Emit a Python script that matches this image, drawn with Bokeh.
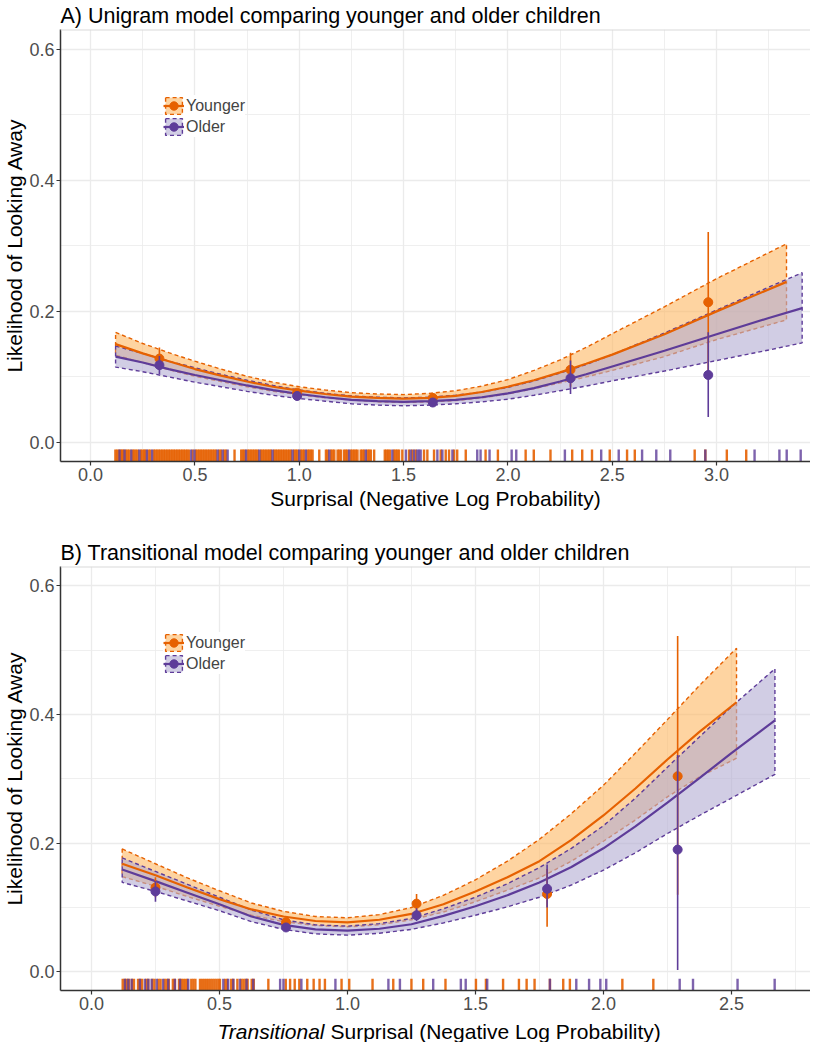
from bokeh.plotting import figure
from bokeh.models import (Range1d, FixedTicker, PrintfTickFormatter,
                          Legend, LegendItem, Label, Span)
from bokeh.layouts import column
from bokeh.embed import file_html
from bokeh.resources import INLINE

FONT = "Liberation Sans"
ORANGE = "#e66101"
ORANGE_FILL = "#fdb863"
PURPLE = "#5e3c99"
PURPLE_FILL = "#b2abd2"
GRID = "#ebebeb"

groups = ["Younger", "Older"]
y_label = "Likelihood of Looking Away"
y_ticks = [0.0, 0.2, 0.4, 0.6]
y_minor = [0.1, 0.3, 0.5]

# ---------------- Panel A : unigram model ----------------
a_title = "A) Unigram model comparing younger and older children"
a_xlabel = "Surprisal (Negative Log Probability)"
a_xticks = [0.0, 0.5, 1.0, 1.5, 2.0, 2.5, 3.0]
a_xminor = [0.25, 0.75, 1.25, 1.75, 2.25, 2.75, 3.25]

a_young_x = [0.12, 0.25, 0.375, 0.5, 0.625, 0.75, 0.875, 1.0, 1.125, 1.25, 1.375, 1.5, 1.625,
             1.75, 1.875, 2.0, 2.125, 2.25, 2.375, 2.5, 2.75, 3.0, 3.335]
a_young_fit = [0.150, 0.136, 0.124, 0.112, 0.102, 0.093, 0.085, 0.079, 0.074, 0.070, 0.068, 0.067,
               0.068, 0.071, 0.077, 0.085, 0.095, 0.107, 0.120, 0.134, 0.165, 0.200, 0.245]
a_young_hi = [0.168, 0.151, 0.137, 0.124, 0.112, 0.101, 0.092, 0.085, 0.080, 0.076, 0.074, 0.073,
              0.075, 0.079, 0.086, 0.096, 0.110, 0.126, 0.145, 0.166, 0.207, 0.250, 0.303]
a_young_lo = [0.133, 0.122, 0.111, 0.101, 0.093, 0.085, 0.078, 0.073, 0.068, 0.065, 0.062, 0.061,
              0.062, 0.064, 0.068, 0.074, 0.082, 0.091, 0.100, 0.110, 0.131, 0.157, 0.187]

a_old_x = [0.12, 0.25, 0.375, 0.5, 0.625, 0.75, 0.875, 1.0, 1.125, 1.25, 1.375, 1.5, 1.625,
           1.75, 1.875, 2.0, 2.125, 2.25, 2.375, 2.5, 2.75, 3.0, 3.25, 3.41]
a_old_fit = [0.131, 0.122, 0.112, 0.103, 0.095, 0.087, 0.080, 0.074, 0.069, 0.065, 0.063, 0.062,
             0.063, 0.065, 0.069, 0.075, 0.083, 0.093, 0.104, 0.116, 0.140, 0.165, 0.190, 0.205]
a_old_hi = [0.147, 0.136, 0.124, 0.114, 0.104, 0.095, 0.087, 0.080, 0.075, 0.071, 0.069, 0.068,
            0.069, 0.072, 0.077, 0.084, 0.094, 0.106, 0.119, 0.134, 0.167, 0.202, 0.237, 0.259]
a_old_lo = [0.115, 0.108, 0.100, 0.092, 0.085, 0.078, 0.072, 0.067, 0.063, 0.059, 0.057, 0.056,
            0.057, 0.059, 0.062, 0.066, 0.072, 0.079, 0.086, 0.094, 0.109, 0.125, 0.141, 0.152]

a_bin_x = [0.33, 0.99, 1.64, 2.30, 2.96]
a_young_mean = [0.128, 0.076, 0.068, 0.111, 0.214]
a_young_elo = [0.112, 0.070, 0.062, 0.085, 0.107]
a_young_ehi = [0.145, 0.082, 0.074, 0.137, 0.321]
a_old_mean = [0.118, 0.071, 0.061, 0.098, 0.103]
a_old_elo = [0.104, 0.064, 0.055, 0.074, 0.039]
a_old_ehi = [0.132, 0.077, 0.067, 0.125, 0.168]

a_young_rug = [0.119, 0.127, 0.136, 0.145, 0.152, 0.158, 0.170, 0.178, 0.186, 0.201, 0.209, 0.217,
               0.226, 0.241, 0.249, 0.257, 0.263, 0.278, 0.286, 0.303, 0.311, 0.319, 0.327, 0.335,
               0.343, 0.351, 0.359, 0.367, 0.375, 0.383, 0.391, 0.399, 0.407, 0.415, 0.423, 0.431,
               0.439, 0.447, 0.455, 0.463, 0.471, 0.489, 0.505, 0.513, 0.521, 0.529, 0.537, 0.545,
               0.553, 0.561, 0.569, 0.577, 0.585, 0.593, 0.601, 0.617, 0.625, 0.641, 0.649,
               0.690, 0.722, 0.730, 0.738, 0.753, 0.761, 0.769, 0.777, 0.785, 0.793, 0.801, 0.817,
               0.825, 0.833, 0.841, 0.849, 0.857, 0.864, 0.880, 0.888, 0.896, 0.904, 0.912, 0.920,
               0.928, 0.936, 0.944, 0.952, 0.960, 0.976, 0.984, 0.992, 1.008, 1.016, 1.024, 1.040,
               1.048, 1.056, 1.064, 1.096, 1.128, 1.136, 1.152, 1.160, 1.168, 1.184, 1.192, 1.200,
               1.215, 1.223, 1.231, 1.247, 1.255, 1.263, 1.271, 1.279, 1.295, 1.303, 1.311, 1.327,
               1.335, 1.343, 1.359, 1.410, 1.418, 1.426, 1.434, 1.454, 1.462, 1.470, 1.478, 1.494,
               1.526, 1.542, 1.558, 1.598, 1.614, 1.646, 1.678, 1.702, 1.718, 1.742, 1.757, 1.798,
               1.893, 1.952, 2.085, 2.124, 2.204, 2.308, 2.356, 2.403, 2.488, 2.571, 2.608, 2.895,
               2.946, 3.049, 3.142]
a_old_rug = [0.139, 0.163, 0.195, 0.234, 0.270, 0.295, 0.482, 0.498, 0.609, 0.633, 0.657, 0.745,
             0.809, 0.872, 0.968, 1.000, 1.032, 1.144, 1.239, 1.319, 1.446, 1.511, 1.534, 1.550,
             1.566, 1.574, 1.582, 1.662, 1.686, 1.734, 1.853, 1.869, 1.912, 2.018, 2.040, 2.273,
             2.447, 2.531, 2.643, 2.711, 2.778, 2.946, 3.182, 3.301, 3.336, 3.403]

# ---------------- Panel B : transitional model ----------------
b_title = "B) Transitional model comparing younger and older children"
b_xlabel_italic = "Transitional"
b_xlabel_rest = "Surprisal (Negative Log Probability)"
b_xticks = [0.0, 0.5, 1.0, 1.5, 2.0, 2.5]
b_xminor = [0.25, 0.75, 1.25, 1.75, 2.25, 2.75]

b_young_x = [0.12, 0.25, 0.375, 0.5, 0.625, 0.75, 0.875, 1.0, 1.125, 1.25, 1.375, 1.5, 1.625,
             1.75, 1.875, 2.0, 2.125, 2.25, 2.375, 2.52]
b_young_fit = [0.168, 0.150, 0.131, 0.113, 0.097, 0.086, 0.079, 0.077, 0.081, 0.090, 0.105, 0.125,
               0.147, 0.172, 0.205, 0.243, 0.285, 0.330, 0.373, 0.419]
b_young_hi = [0.191, 0.168, 0.146, 0.126, 0.107, 0.094, 0.086, 0.084, 0.089, 0.100, 0.119, 0.143,
              0.172, 0.206, 0.246, 0.290, 0.340, 0.392, 0.445, 0.503]
b_young_lo = [0.148, 0.133, 0.117, 0.102, 0.088, 0.078, 0.072, 0.070, 0.073, 0.081, 0.093, 0.109,
              0.127, 0.146, 0.172, 0.203, 0.236, 0.272, 0.303, 0.332]

b_old_x = [0.12, 0.25, 0.375, 0.5, 0.625, 0.75, 0.875, 1.0, 1.125, 1.25, 1.375, 1.5, 1.625,
           1.75, 1.875, 2.0, 2.125, 2.25, 2.375, 2.5, 2.67]
b_old_fit = [0.159, 0.141, 0.123, 0.105, 0.086, 0.073, 0.066, 0.064, 0.067, 0.074, 0.087, 0.102,
             0.119, 0.139, 0.163, 0.192, 0.226, 0.263, 0.301, 0.340, 0.391]
b_old_hi = [0.177, 0.156, 0.136, 0.116, 0.096, 0.081, 0.073, 0.071, 0.075, 0.083, 0.098, 0.116,
            0.137, 0.162, 0.192, 0.227, 0.270, 0.318, 0.365, 0.412, 0.471]
b_old_lo = [0.139, 0.125, 0.110, 0.095, 0.078, 0.066, 0.059, 0.057, 0.060, 0.066, 0.076, 0.088,
            0.101, 0.116, 0.135, 0.158, 0.185, 0.215, 0.243, 0.270, 0.307]

b_bin_x = [0.25, 0.76, 1.27, 1.78, 2.29]
b_young_mean = [0.131, 0.077, 0.106, 0.121, 0.304]
b_young_elo = [0.116, 0.071, 0.092, 0.070, 0.120]
b_young_ehi = [0.147, 0.083, 0.121, 0.160, 0.522]
b_old_mean = [0.125, 0.069, 0.088, 0.129, 0.190]
b_old_elo = [0.109, 0.064, 0.079, 0.100, 0.003]
b_old_ehi = [0.141, 0.075, 0.099, 0.167, 0.337]

b_young_rug = [0.122, 0.130, 0.138, 0.146, 0.158, 0.166, 0.182, 0.190, 0.198, 0.214, 0.222, 0.238,
               0.246, 0.262, 0.270, 0.286, 0.294, 0.302, 0.318, 0.326, 0.342, 0.350, 0.358, 0.366,
               0.374, 0.390, 0.398, 0.406, 0.424, 0.432, 0.440, 0.448, 0.456, 0.464, 0.472, 0.480,
               0.488, 0.496, 0.502, 0.522, 0.530, 0.546, 0.554, 0.570, 0.586, 0.594, 0.602, 0.610,
               0.626, 0.634, 0.691, 0.759, 0.776, 0.794, 0.812, 0.843, 0.868, 0.891, 0.912, 0.977,
               1.007, 1.098, 1.179, 1.250, 1.296, 1.383, 1.502, 1.541, 1.608, 1.670, 1.700, 1.731,
               1.791, 1.843, 1.869, 2.074, 2.195]
b_old_rug = [0.131, 0.144, 0.157, 0.189, 0.209, 0.222, 0.235, 0.255, 0.280, 0.300, 0.326, 0.346,
             0.378, 0.515, 0.534, 0.554, 0.580, 0.606, 0.632, 0.737, 0.750, 0.820, 0.953, 1.160,
             1.205, 1.335, 1.443, 1.462, 1.546, 1.791, 1.894, 1.944, 1.988, 2.011, 2.298, 2.350,
             2.524, 2.669]

Y_RANGE = (-0.029, 0.63)
FRAME_W = 750
LEFT_B = 57


def style_axis(ax):
    ax.major_label_text_font = FONT
    ax.major_label_text_font_size = "18px"
    ax.major_label_text_color = "#4d4d4d"
    ax.axis_line_color = "#333333"
    ax.axis_line_width = 1.5
    ax.major_tick_line_color = "#333333"
    ax.major_tick_line_width = 1.2
    ax.major_tick_out = 4
    ax.major_tick_in = 0
    ax.minor_tick_out = 0
    ax.minor_tick_in = 0
    ax.major_label_standoff = 2
    ax.axis_label_text_font = FONT
    ax.axis_label_text_font_size = "21px"
    ax.axis_label_text_font_style = "normal"
    ax.axis_label_text_color = "black"


def make_panel(title, x_range, xticks, xminor, frame_h, top_b, bottom_b,
               yx, yfit, yhi, ylo, ox, ofit, ohi, olo,
               bx, ymean, yelo, yehi, omean, oelo, oehi,
               yrug, orug, xlabel, legend_y):
    p = figure(frame_width=FRAME_W, frame_height=frame_h,
               x_range=Range1d(*x_range), y_range=Range1d(*Y_RANGE),
               output_backend="svg", toolbar_location=None,
               min_border_left=LEFT_B, min_border_right=0,
               min_border_top=top_b, min_border_bottom=bottom_b,
               background_fill_color="white", border_fill_color="white")
    p.outline_line_color = None
    p.title.text = title
    p.title.text_font = FONT
    p.title.text_font_size = "21.5px"
    p.title.text_font_style = "normal"
    p.title.text_color = "black"
    p.title.align = "left"
    p.title.standoff = 3

    xt = FixedTicker(ticks=xticks, minor_ticks=xminor)
    yt = FixedTicker(ticks=y_ticks, minor_ticks=y_minor)
    p.xaxis.ticker = xt
    p.yaxis.ticker = yt
    p.xgrid.ticker = xt
    p.ygrid.ticker = yt
    p.xaxis.formatter = PrintfTickFormatter(format="%.1f")
    p.yaxis.formatter = PrintfTickFormatter(format="%.1f")
    for g in (p.xgrid, p.ygrid):
        g.grid_line_color = GRID
        g.grid_line_width = 1.3
        g.minor_grid_line_color = GRID
        g.minor_grid_line_width = 0.8
    style_axis(p.xaxis[0])
    style_axis(p.yaxis[0])
    p.yaxis.axis_label = y_label
    p.yaxis.axis_label_standoff = 0
    if xlabel is not None:
        p.xaxis.axis_label = xlabel
        p.xaxis.axis_label_standoff = 3

    p.add_layout(Span(location=Y_RANGE[1], dimension="width", line_color="#d9d9d9", line_width=2))

    # confidence ribbons (dashed outline all round)
    by = p.patch(yx + yx[::-1], yhi + ylo[::-1], fill_color=ORANGE_FILL, fill_alpha=0.6,
                 line_color=ORANGE, line_dash="4 3", line_width=1.4)
    bo = p.patch(ox + ox[::-1], ohi + olo[::-1], fill_color=PURPLE_FILL, fill_alpha=0.6,
                 line_color=PURPLE, line_dash="4 3", line_width=1.4)
    # fitted lines
    ly = p.line(yx, yfit, line_color=ORANGE, line_width=2.2)
    lo = p.line(ox, ofit, line_color=PURPLE, line_width=2.2)

    # rugs
    r0 = Y_RANGE[0]
    r1 = Y_RANGE[0] + 0.028 * (Y_RANGE[1] - Y_RANGE[0])
    p.segment(x0=yrug, y0=[r0] * len(yrug), x1=yrug, y1=[r1] * len(yrug),
              line_color=ORANGE, line_width=2.4, line_alpha=0.9)
    p.segment(x0=orug, y0=[r0] * len(orug), x1=orug, y1=[r1] * len(orug),
              line_color=PURPLE, line_width=2.4, line_alpha=0.8)

    # binned means with intervals
    p.segment(x0=bx, y0=yelo, x1=bx, y1=yehi, line_color=ORANGE, line_width=1.6)
    py = p.scatter(bx, ymean, size=9, fill_color=ORANGE, line_color=ORANGE)
    p.segment(x0=bx, y0=oelo, x1=bx, y1=oehi, line_color=PURPLE, line_width=1.6)
    po = p.scatter(bx, omean, size=9, fill_color=PURPLE, line_color=PURPLE)

    legend = Legend(items=[LegendItem(label=groups[0], renderers=[by, ly, py]),
                           LegendItem(label=groups[1], renderers=[bo, lo, po])],
                    location=(103, legend_y), padding=5, spacing=0, margin=0,
                    glyph_width=21, glyph_height=21, label_height=21, label_standoff=2,
                    label_text_font=FONT, label_text_font_size="16px",
                    border_line_color=None, background_fill_color="white", background_fill_alpha=1.0)
    p.add_layout(legend)
    return p


A_H = 432
B_H = 424
pa = make_panel(a_title, (-0.144, 3.45), a_xticks, a_xminor, A_H, 27, 40,
                a_young_x, a_young_fit, a_young_hi, a_young_lo,
                a_old_x, a_old_fit, a_old_hi, a_old_lo,
                a_bin_x, a_young_mean, a_young_elo, a_young_ehi,
                a_old_mean, a_old_elo, a_old_ehi,
                a_young_rug, a_old_rug, a_xlabel, A_H - 108)

pb = make_panel(b_title, (-0.121, 2.809), b_xticks, b_xminor, B_H, 54, 0,
                b_young_x, b_young_fit, b_young_hi, b_young_lo,
                b_old_x, b_old_fit, b_old_hi, b_old_lo,
                b_bin_x, b_young_mean, b_young_elo, b_young_ehi,
                b_old_mean, b_old_elo, b_old_ehi,
                b_young_rug, b_old_rug, None, B_H - 108)

# strip holding panel B's x-axis title (italic first word)
pc = figure(frame_width=FRAME_W, frame_height=30, x_range=Range1d(0, 1), y_range=Range1d(0, 1),
            output_backend="svg", toolbar_location=None,
            x_axis_location=None, y_axis_location=None,
            min_border_left=LEFT_B, min_border_right=0, min_border_top=0, min_border_bottom=0,
            background_fill_color="white", border_fill_color="white")
pc.outline_line_color = None
pc.grid.visible = False
pc.add_layout(Label(x=264, y=11, x_units="screen", y_units="screen", text=b_xlabel_italic,
                    text_align="right", text_baseline="alphabetic", text_font=FONT,
                    text_font_size="21px", text_font_style="italic", text_color="black"))
pc.add_layout(Label(x=270, y=11, x_units="screen", y_units="screen", text=b_xlabel_rest,
                    text_align="left", text_baseline="alphabetic", text_font=FONT,
                    text_font_size="21px", text_font_style="normal", text_color="black"))

layout = column(pa, pb, pc, spacing=0)
open("out.html", "w").write(file_html(layout, INLINE))
